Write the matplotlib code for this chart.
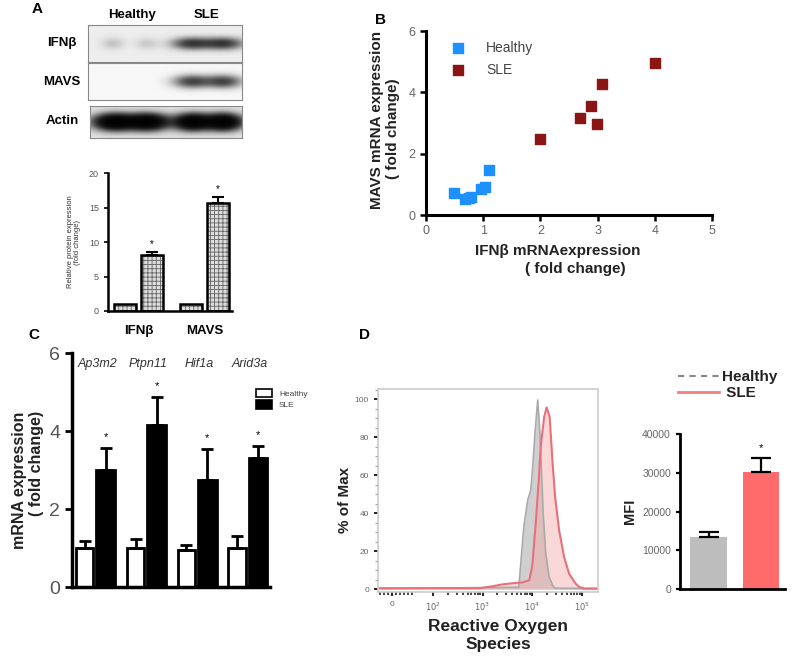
import numpy as np
import matplotlib.pyplot as plt
from matplotlib.lines import Line2D
from matplotlib.patches import Patch

plt.rcParams['font.family'] = ['Liberation Sans', 'DejaVu Sans']
plt.rcParams['hatch.linewidth'] = 0.6

# ---- A: western blot (lane band intensity) + quantification
blot_lane_pos = [0.16, 0.38, 0.675, 0.88]
blot_ifnb = [0.18, 0.15, 1.0, 1.0]
blot_mavs = [0.0, 0.0, 0.9, 0.9]
blot_actin = [2.5, 2.5, 2.5, 2.5]

prot_groups = ['IFNβ', 'MAVS']
prot_healthy = [1.0, 1.0]
prot_sle = [8.1, 15.7]
prot_sle_err = [0.5, 0.8]

# ---- B: scatter IFNb vs MAVS mRNA
b_healthy_x = [0.49, 0.69, 0.75, 0.79, 0.97, 1.03, 1.10]
b_healthy_y = [0.72, 0.52, 0.55, 0.60, 0.84, 0.90, 1.47]
b_sle_x = [1.99, 2.69, 2.88, 2.99, 3.08, 4.00]
b_sle_y = [2.48, 3.17, 3.57, 2.98, 4.26, 4.96]

# ---- C: mRNA expression
genes = ['Ap3m2', 'Ptpn11', 'Hif1a', 'Arid3a']
c_healthy = [1.0, 1.0, 0.95, 1.0]
c_healthy_err = [0.18, 0.22, 0.12, 0.32]
c_sle = [3.0, 4.15, 2.75, 3.3]
c_sle_err = [0.56, 0.73, 0.79, 0.32]

# ---- D: ROS histogram (log10 fluorescence, % of max) and MFI
h_log = [3.73, 3.83, 3.91, 3.97, 4.00, 4.06, 4.11, 4.15, 4.18, 4.22, 4.27, 4.34, 4.41, 4.46]
h_pct = [1.0, 32.8, 47.0, 52.0, 61.0, 84.0, 99.5, 84.0, 66.0, 40.0, 19.0, 6.5, 2.0, 0.5]
s_log = [2.94, 3.2, 3.4, 3.67, 3.8, 3.94, 4.00, 4.07, 4.13, 4.17, 4.24, 4.29, 4.35,
         4.41, 4.46, 4.54, 4.64, 4.74, 4.87, 4.94, 5.05]
s_pct = [0.5, 1.5, 2.5, 3.3, 3.5, 4.7, 12.0, 34.6, 57.0, 75.0, 90.7, 95.6, 90.7,
         66.0, 48.6, 31.0, 17.0, 8.2, 3.0, 1.2, 0.3]
mfi = [13400, 30200]
mfi_err = [1300, 3600]

W, H = 800, 667
fig = plt.figure(figsize=(8, 6.67), dpi=100)


def box(l, t, r, b):
    return [l / W, 1 - b / H, (r - l) / W, (b - t) / H]


def ftext(x, y, s, **kw):
    kw.setdefault('ha', 'center')
    kw.setdefault('va', 'center')
    fig.text(x / W, 1 - y / H, s, **kw)


def blot(rect, levels, widths, sy, bg):
    ax = fig.add_axes(rect)
    xx = np.linspace(0, 1, 300)
    yy = np.linspace(0, 1, 80)[:, None]
    img = np.zeros((80, 300))
    for c, lev, sx in zip(blot_lane_pos, levels, widths):
        img += lev * np.exp(-0.5 * ((xx - c) / sx) ** 2) * np.exp(-0.5 * ((yy - 0.5) / sy) ** 2)
    img = bg * (1 - np.tanh(img))
    ax.imshow(img, cmap='gray', vmin=0, vmax=1, extent=[0, 1, 0, 1], aspect='auto', origin='lower')
    ax.set_xticks([])
    ax.set_yticks([])
    for s in ax.spines.values():
        s.set_color('#888888')
        s.set_linewidth(0.8)
    return ax


# ================= A
ftext(37, 9, 'A', fontsize=11, fontweight='bold')
ftext(132, 15, 'Healthy', fontsize=9.5, fontweight='bold')
ftext(207, 15, 'SLE', fontsize=9.5, fontweight='bold')
blot(box(88, 25, 242, 62), blot_ifnb, [0.05, 0.05, 0.085, 0.085], 0.11, 0.93)
blot(box(88, 63, 242, 100), blot_mavs, [0.05, 0.05, 0.08, 0.08], 0.12, 0.97)
blot(box(90, 106, 242, 138), blot_actin, [0.09, 0.09, 0.08, 0.08], 0.17, 0.9)
ftext(62, 43, 'IFNβ', fontsize=9.5, fontweight='bold')
ftext(62, 82, 'MAVS', fontsize=9.5, fontweight='bold')
ftext(62, 121, 'Actin', fontsize=9.5, fontweight='bold')

axa = fig.add_axes(box(108, 173, 232, 311))
xa = np.arange(len(prot_groups))
for xs, vals in [(xa - 0.205, prot_healthy), (xa + 0.205, prot_sle)]:
    axa.bar(xs, vals, 0.33, color='#dcdcdc', edgecolor='#666666', hatch='++++', lw=0)
    axa.bar(xs, vals, 0.33, fill=False, edgecolor='black', lw=1.8)
axa.errorbar(xa + 0.205, prot_sle, yerr=[np.zeros(2), prot_sle_err], fmt='none',
             ecolor='black', elinewidth=1.5, capsize=4, capthick=1.5)
for x, v, e in zip(xa + 0.205, prot_sle, prot_sle_err):
    axa.text(x, v + e + 0.4, '*', ha='center', va='bottom', fontsize=7)
axa.set_xlim(-0.462, 1.413)
axa.set_ylim(0, 20)
axa.set_yticks([0, 5, 10, 15, 20])
axa.set_xticks(xa)
axa.set_xticklabels(prot_groups, fontsize=9.5, fontweight='bold')
axa.tick_params(axis='x', length=0, pad=10)
axa.tick_params(axis='y', labelsize=6.5, labelcolor='#555555', length=3, width=1.2)
for s in ['top', 'right']:
    axa.spines[s].set_visible(False)
for s in ['left', 'bottom']:
    axa.spines[s].set_linewidth(1.8)
ftext(74, 242, 'Relative protein expression\n(fold change)', fontsize=5.5, rotation=90,
      color='#333333', linespacing=1.1)

# ================= B
ftext(381, 20, 'B', fontsize=11, fontweight='bold')
axb = fig.add_axes(box(426, 31, 712, 215))
axb.scatter(b_healthy_x, b_healthy_y, marker='s', s=50, color='#1e90ff', label='Healthy', zorder=3)
axb.scatter(b_sle_x, b_sle_y, marker='s', s=50, color='#8b1414', label='SLE', zorder=3)
axb.set_xlim(0, 5)
axb.set_ylim(0, 6)
axb.set_xticks(range(6))
axb.set_yticks([0, 2, 4, 6])
axb.tick_params(labelsize=9, labelcolor='#666666', length=4, width=1.8)
for s in ['top', 'right']:
    axb.spines[s].set_visible(False)
for s in ['left', 'bottom']:
    axb.spines[s].set_linewidth(2.2)
axb.legend(loc='upper left', bbox_to_anchor=(0.03, 1.0), frameon=False, fontsize=10,
           handletextpad=1.0, labelspacing=0.6, borderaxespad=0.3, labelcolor='#444444',
           scatterpoints=1)
ftext(558, 251, 'IFNβ mRNAexpression', fontsize=11, fontweight='bold', color='#222222')
ftext(575, 269, '( fold change)', fontsize=11, fontweight='bold', color='#222222')
ftext(377, 120, 'MAVS mRNA expression', fontsize=11, fontweight='bold', rotation=90, color='#222222')
ftext(393, 129, '( fold change)', fontsize=11, fontweight='bold', rotation=90, color='#222222')

# ================= C
ftext(34, 335, 'C', fontsize=11, fontweight='bold')
axc = fig.add_axes(box(72, 353, 270, 587))
xc = np.arange(len(genes))
axc.bar(xc - 0.207, c_healthy, 0.34, color='white', edgecolor='black', lw=2)
axc.bar(xc + 0.207, c_sle, 0.37, color='black', edgecolor='black', lw=2)
axc.errorbar(xc - 0.207, c_healthy, yerr=[np.zeros(4), c_healthy_err], fmt='none',
             ecolor='black', elinewidth=2, capsize=4, capthick=2)
axc.errorbar(xc + 0.207, c_sle, yerr=[np.zeros(4), c_sle_err], fmt='none',
             ecolor='black', elinewidth=2, capsize=4, capthick=2)
for x, v, e in zip(xc + 0.207, c_sle, c_sle_err):
    axc.text(x, v + e + 0.15, '*', ha='center', va='bottom', fontsize=8)
for x, g in zip(xc, genes):
    axc.text(x + 0.05, 5.72, g, ha='center', va='center', fontsize=9, style='italic', color='#333333')
axc.set_xlim(-0.459, 3.444)
axc.set_ylim(0, 6)
axc.set_yticks([0, 2, 4, 6])
axc.set_xticks([])
axc.tick_params(axis='y', labelsize=14, labelcolor='#555555', length=5, width=2)
for s in ['top', 'right']:
    axc.spines[s].set_visible(False)
for s in ['left', 'bottom']:
    axc.spines[s].set_linewidth(2.5)
axc.legend(handles=[Patch(facecolor='white', edgecolor='black', lw=1.2, label='Healthy'),
                    Patch(facecolor='black', edgecolor='black', lw=1.2, label='SLE')],
           loc='upper left', bbox_to_anchor=(0.89, 0.88), frameon=False, fontsize=6,
           handlelength=2.0, handleheight=1.2, handletextpad=0.8, labelspacing=0.3,
           labelcolor='#444444')
ftext(20, 480, 'mRNA expression', fontsize=11.5, fontweight='bold', rotation=90, color='#222222')
ftext(36, 463, '( fold change)', fontsize=11.5, fontweight='bold', rotation=90, color='#222222')

# ================= D histogram
ftext(364, 335, 'D', fontsize=11, fontweight='bold')
axd = fig.add_axes(box(378, 389, 598, 592))
axd.set_xscale('symlog', linthresh=100, linscale=0.74)
base = -30
hx = np.concatenate([[base], 10 ** np.array(h_log), [2e5]])
hy = np.concatenate([[0.3], h_pct, [0.3]])
sx_ = np.concatenate([[base], 10 ** np.array(s_log), [2e5]])
sy_ = np.concatenate([[0.5], s_pct, [0.3]])
axd.fill_between(hx, 0, hy, color='#c4c4c4', alpha=0.8, lw=0)
axd.plot(hx, hy, color='#aaaaaa', lw=1.2)
axd.fill_between(sx_, 0, sy_, color='#f4a9a9', alpha=0.45, lw=0)
axd.plot(sx_, sy_, color='#e8707a', lw=1.5)
axd.set_xlim(-34, 2.1e5)
axd.set_ylim(-1.5, 105.3)
axd.set_xticks([0, 1e2, 1e3, 1e4, 1e5])
axd.set_xticklabels(['0', '$10^2$', '$10^3$', '$10^4$', '$10^5$'])
minor = [-30, -20, -10, 10, 20, 30, 40, 50]
for d in [100, 1000, 10000]:
    minor += [d * k for k in range(2, 10)]
axd.set_xticks(minor, minor=True)
axd.set_yticks(range(0, 101, 20))
axd.set_yticks(range(0, 106, 5), minor=True)
axd.tick_params(axis='both', which='major', labelsize=6, labelcolor='#666666', length=3, width=1.4,
                color='#222222')
axd.tick_params(axis='x', which='minor', length=2.5, width=1.2, color='#222222')
axd.tick_params(axis='y', which='minor', length=2, width=0.8, color='#999999')
for s in axd.spines.values():
    s.set_color('#cccccc')
    s.set_linewidth(1.2)
ftext(345, 500, '% of Max', fontsize=11, fontweight='bold', rotation=90, color='#222222')
ftext(498, 627, 'Reactive Oxygen', fontsize=12.5, fontweight='bold', color='#222222')
ftext(498, 645, 'Species', fontsize=12.5, fontweight='bold', color='#222222')

# ================= D MFI
axm = fig.add_axes(box(680, 434, 785, 589))
xm = np.arange(2)
axm.bar(xm, mfi, 0.7, color=['#bdbdbd', '#ff6b6b'])
axm.errorbar(xm, mfi, yerr=[np.zeros(2), mfi_err], fmt='none', ecolor='black',
             elinewidth=1.6, capsize=7, capthick=1.6)
axm.text(1, mfi[1] + mfi_err[1] + 1200, '*', ha='center', va='bottom', fontsize=8)
axm.set_xlim(-0.543, 1.457)
axm.set_ylim(0, 40000)
axm.set_yticks(range(0, 40001, 10000))
axm.set_xticks([])
axm.tick_params(axis='y', labelsize=7.5, labelcolor='#666666', length=3, width=1.6)
for s in ['top', 'right']:
    axm.spines[s].set_visible(False)
for s in ['left', 'bottom']:
    axm.spines[s].set_linewidth(2)
ftext(630, 511, 'MFI', fontsize=10.5, fontweight='bold', rotation=90, color='#222222')
fig.legend(handles=[Line2D([], [], color='#888888', ls=(0, (3, 2.5)), lw=1.5, label='Healthy'),
                    Line2D([], [], color='#f28080', lw=2, label=' SLE')],
           loc='center', bbox_to_anchor=(728 / W, 1 - 385 / H), frameon=False,
           prop={'size': 11, 'weight': 'bold'}, handlelength=2.7, handletextpad=0.2,
           labelspacing=0.15, labelcolor='#222222')

fig.savefig('out.png', dpi=100)
